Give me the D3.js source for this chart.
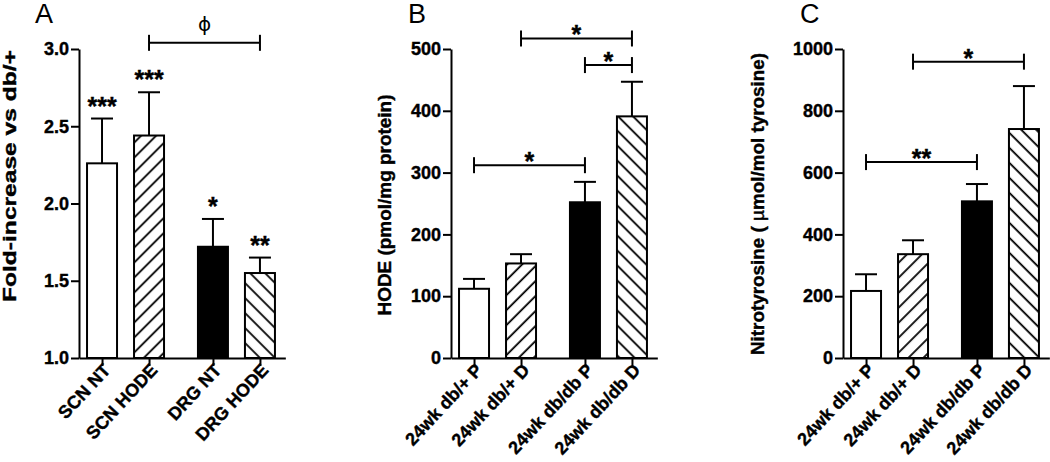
<!DOCTYPE html>
<html>
<head>
<meta charset="utf-8">
<script src="https://cdn.jsdelivr.net/npm/d3@7"></script>
<style>
  body { margin: 0; background: #fff; }
  svg { display: block; font-family: Arial, "Liberation Sans", sans-serif; }
  .heavy { stroke: #000; stroke-width: 0.4px; }
</style>
</head>
<body>
<div id="chart"></div>
<script>

// Data ///////////////////////////////////////////////////////////////////////

const catsA = ["SCN NT", "SCN HODE", "DRG NT", "DRG HODE"];
const meanA = [2.26, 2.44, 1.72, 1.55];
const semA = [0.29, 0.28, 0.18, 0.10];
const starsA = ["***", "***", "*", "**"];
const ticksA = [1.0, 1.5, 2.0, 2.5, 3.0];
const bracketsA = [{ from: 1, to: 3, level: 3.04, label: "\u03D5" }];

const catsBC = ["24wk db/+ P", "24wk db/+ D", "24wk db/db P", "24wk db/db D"];

const meanB = [112, 153, 252, 391];
const semB = [16, 15, 33, 56];
const ticksB = [0, 100, 200, 300, 400, 500];
const bracketsB = [
    { from: 1, to: 3, level: 517, label: "*" },
    { from: 2, to: 3, level: 474, label: "*" },
    { from: 0, to: 2, level: 312, label: "*" }
];

const meanC = [217, 336, 507, 741];
const semC = [54, 45, 56, 139];
const ticksC = [0, 200, 400, 600, 800, 1000];
const bracketsC = [
    { from: 1, to: 3, level: 959, label: "*" },
    { from: 0, to: 2, level: 634, label: "**" }
];

const fills = ["white", "url(#hatch-up)", "black", "url(#hatch-down)"];

// Layout /////////////////////////////////////////////////////////////////////

const width = 1050, height = 462;
const yTop = 49, yBottom = 358;
const groupGap = 0.36;
const slotPx = 47;
const barW = 30;
const fontStack = "Arial, 'Liberation Sans', sans-serif";

const svg = d3.select("#chart").append("svg")
    .attr("width", width)
    .attr("height", height)
    .attr("viewBox", [0, 0, width, height]);

svg.append("rect").attr("width", width).attr("height", height).attr("fill", "white");

const defs = svg.append("defs");
[["hatch-up", 45], ["hatch-down", -45]].forEach(([id, angle]) => {
    const p = defs.append("pattern")
        .attr("id", id)
        .attr("patternUnits", "userSpaceOnUse")
        .attr("width", 10.6)
        .attr("height", 10.6)
        .attr("patternTransform", `rotate(${angle})`);
    p.append("rect").attr("width", 10.6).attr("height", 10.6).attr("fill", "white");
    p.append("line")
        .attr("x1", 5).attr("x2", 5)
        .attr("y1", 0).attr("y2", 10.6)
        .attr("stroke", "black")
        .attr("stroke-width", 1.8);
});

const panels = [
    {
        letter: "A", letterX: 35, x0: 79,
        cats: catsA, mean: meanA, sem: semA, stars: starsA,
        ticks: ticksA, domain: [1, 3], fmt: d3.format(".1f"),
        brackets: bracketsA,
        title: ["Fold-increase vs db/+"], titleX: 9, titleY: 176, titleLen: 252
    },
    {
        letter: "B", letterX: 408, x0: 451,
        cats: catsBC, mean: meanB, sem: semB, stars: null,
        ticks: ticksB, domain: [0, 500], fmt: d3.format("d"),
        brackets: bracketsB,
        title: ["HODE (pmol/mg protein)"], titleX: 384, titleY: 205, titleLen: 221
    },
    {
        letter: "C", letterX: 800, x0: 843,
        cats: catsBC, mean: meanC, sem: semC, stars: null,
        ticks: ticksC, domain: [0, 1000], fmt: d3.format("d"),
        brackets: bracketsC,
        title: ["Nitrotyrosine ( ", "\u00B5", "mol/mol tyrosine)"], titleX: 757, titleY: 204, titleLen: 302
    }
];

panels.forEach(drawPanel);

// Functions //////////////////////////////////////////////////////////////////

function drawPanel(p) {

    const slots = p.cats.map((_, i) => i + (i >= 2 ? groupGap : 0));

    const x = d3.scaleLinear()
        .domain([-0.49, 3.9])
        .range([p.x0, p.x0 + 4.39 * slotPx]);

    const y = d3.scaleLinear()
        .domain(p.domain)
        .range([yBottom, yTop]);

    const g = svg.append("g");

    // Bars
    g.append("g")
        .selectAll("rect")
        .data(p.mean)
        .join("rect")
        .attr("x", (d, i) => x(slots[i]) - barW / 2)
        .attr("y", d => y(d))
        .attr("width", barW)
        .attr("height", d => y(p.domain[0]) - y(d))
        .attr("fill", (d, i) => fills[i])
        .attr("stroke", "black")
        .attr("stroke-width", 2);

    // Error bars
    const err = g.append("g")
        .attr("stroke", "black")
        .attr("stroke-width", 2);

    p.mean.forEach((m, i) => {
        const cx = x(slots[i]);
        const top = y(m + p.sem[i]);
        err.append("line")
            .attr("x1", cx).attr("x2", cx)
            .attr("y1", y(m)).attr("y2", top);
        err.append("line")
            .attr("x1", cx - 11).attr("x2", cx + 11)
            .attr("y1", top).attr("y2", top);
    });

    // Stars over bars
    if (p.stars) {
        g.append("g")
            .selectAll("text")
            .data(p.stars)
            .join("text")
            .attr("class", "heavy")
            .attr("x", (d, i) => x(slots[i]))
            .attr("y", (d, i) => y(p.mean[i] + p.sem[i]) - 4)
            .attr("text-anchor", "middle")
            .attr("font-size", 25)
            .attr("font-weight", "bold")
            .text(d => d);
    }

    // Brackets
    p.brackets.forEach(b => {
        const by = y(b.level);
        const xa = x(slots[b.from]), xb = x(slots[b.to]);
        const br = g.append("g").attr("stroke", "black").attr("stroke-width", 2);
        br.append("line").attr("x1", xa).attr("x2", xb).attr("y1", by).attr("y2", by);
        br.append("line").attr("x1", xa).attr("x2", xa).attr("y1", by - 8).attr("y2", by + 8);
        br.append("line").attr("x1", xb).attr("x2", xb).attr("y1", by - 8).attr("y2", by + 8);

        const isPhi = b.label === "\u03D5";
        g.append("text")
            .attr("class", isPhi ? null : "heavy")
            .attr("x", (xa + xb) / 2)
            .attr("y", isPhi ? by - 12 : by + 5)
            .attr("text-anchor", "middle")
            .attr("font-size", isPhi ? 20 : 25)
            .attr("font-weight", isPhi ? "normal" : "bold")
            .attr("font-family", isPhi ? "'DejaVu Sans', sans-serif" : null)
            .text(b.label);
    });

    // Y axis
    const yAxis = g.append("g")
        .attr("transform", `translate(${p.x0},0)`)
        .call(d3.axisLeft(y)
            .tickValues(p.ticks)
            .tickFormat(p.fmt)
            .tickSize(8)
            .tickSizeOuter(0)
            .tickPadding(2));
    yAxis.selectAll("path, line").attr("stroke", "black").attr("stroke-width", 2);
    yAxis.selectAll(".tick text")
        .attr("class", "heavy")
        .attr("font-family", fontStack)
        .attr("font-size", 18)
        .attr("font-weight", "bold")
        .attr("fill", "black");

    // X axis
    const xAxis = g.append("g")
        .attr("transform", `translate(0,${yBottom})`)
        .call(d3.axisBottom(x)
            .tickValues(slots)
            .tickFormat((d, i) => p.cats[i])
            .tickSize(8)
            .tickSizeOuter(0));
    xAxis.selectAll("path, line").attr("stroke", "black").attr("stroke-width", 2);
    xAxis.selectAll(".tick text")
        .attr("class", "heavy")
        .attr("font-family", fontStack)
        .attr("font-size", 18)
        .attr("font-weight", "bold")
        .attr("fill", "black")
        .attr("text-anchor", "end")
        .attr("dy", null)
        .attr("y", 0)
        .attr("transform", "translate(9,13) rotate(-47)");

    // Y title
    const title = g.append("text")
        .attr("class", "heavy")
        .attr("transform", `translate(${p.titleX},${p.titleY}) rotate(-90)`)
        .attr("text-anchor", "middle")
        .attr("dominant-baseline", "central")
        .attr("font-size", 19)
        .attr("font-weight", "bold")
        .attr("textLength", p.titleLen)
        .attr("lengthAdjust", "spacingAndGlyphs");
    p.title.forEach(t => {
        title.append("tspan")
            .attr("font-weight", t === "\u00B5" ? "normal" : "bold")
            .text(t);
    });

    // Panel letter
    g.append("text")
        .attr("x", p.letterX)
        .attr("y", 23)
        .attr("font-size", 27)
        .text(p.letter);
}
</script>
</body>
</html>
